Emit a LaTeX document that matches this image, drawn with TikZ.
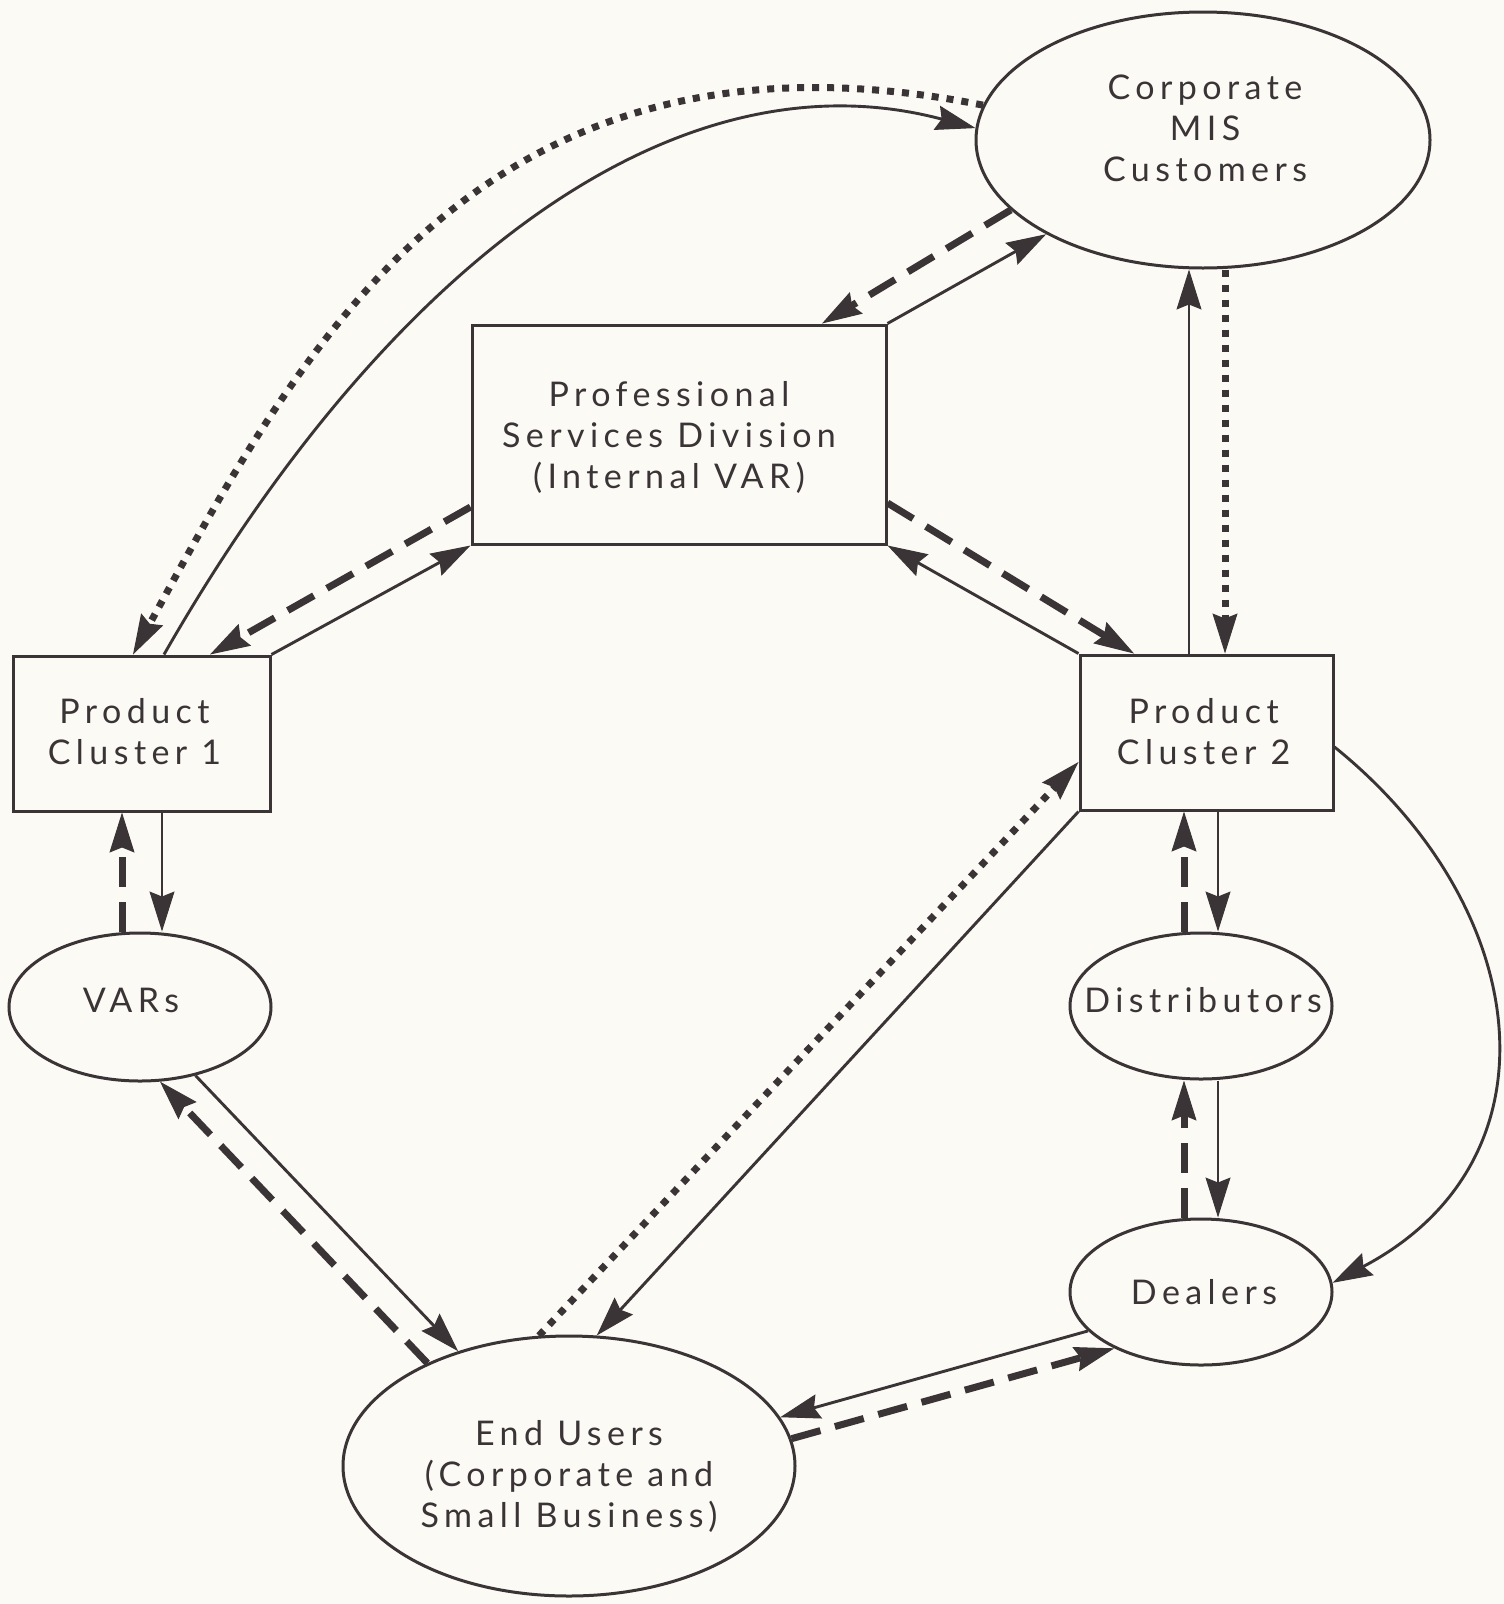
\documentclass[tikz,border=0pt]{standalone}
\usepackage{fontspec}
\setmainfont{Lato}[LetterSpace=16.0]
\usetikzlibrary{arrows.meta,shapes.geometric}
\definecolor{ink}{HTML}{3A3436}
\definecolor{paper}{HTML}{FBFAF5}
\begin{document}
\begin{tikzpicture}[x=1pt,y=-1pt,
  every node/.style={text=ink},
  box/.style={draw=ink,line width=3pt,rectangle,inner sep=0pt},
  ell/.style={draw=ink,line width=3pt,ellipse,inner sep=0pt},
  lbl/.style={align=center,font=\fontsize{34}{41}\selectfont,inner sep=0pt},
  tip/.style={-{Stealth[length=40pt,width=25pt,inset=5pt,line width=1pt]}},
  sol/.style={draw=ink,line width=2.9pt,tip},
  dsh/.style={draw=ink,line width=7pt,dash pattern=on 30pt off 15pt,tip},
  dot/.style={draw=ink,line width=7pt,dash pattern=on 7pt off 8pt,tip},
]
\fill[paper] (0,0) rectangle (1504,1604);
\useasboundingbox (0,0) rectangle (1504,1604);

\node[ell,minimum width=454pt,minimum height=256pt] (mis) at (1203,140) {};
\node[lbl] (mist) at (1205,128) {Corporate\\MIS\\Customers};
\node[box,minimum width=414pt,minimum height=219pt] (psd) at (679,434.5) {};
\node[lbl] (psdt) at (669,437) {Professional\\Services Division\\(Internal VAR)};
\node[box,minimum width=257pt,minimum height=155pt] (pc1) at (141.5,733.5) {};
\node[lbl] (pc1t) at (134.5,732) {Product\\Cluster 1};
\node[box,minimum width=253pt,minimum height=155pt] (pc2) at (1206.5,732.5) {};
\node[lbl] (pc2t) at (1203.6,732) {Product\\Cluster 2};
\node[ell,minimum width=262pt,minimum height=148pt] (vars) at (140,1007) {};
\node[lbl] (varst) at (131,1000) {VARs};
\node[ell,minimum width=262pt,minimum height=146pt] (dis) at (1201,1006) {};
\node[lbl] (dist) at (1203,1000) {Distributors};
\node[ell,minimum width=262pt,minimum height=146pt] (dea) at (1201,1292) {};
\node[lbl] (deat) at (1204,1292) {Dealers};
\node[ell,minimum width=452pt,minimum height=260pt] (eu) at (569,1466) {};
\node[lbl] (eut) at (569,1476) {End Users\\(Corporate and\\Small Business)};

% MIS <-> PC1 curves
\draw[dot] (mis.171) .. controls (480,5) and (298,352) .. ([xshift=-8.5pt]pc1.north);
\draw[sol] ([xshift=22.5pt]pc1.north) .. controls (381,275) and (670,47) .. (mis.177);
% MIS <-> PSD
\draw[dsh] (mis.200) -- ([xshift=143pt]psd.north);
\draw[sol] (psd.north east) -- (mis.211);
% PSD <-> PC1
\draw[dsh] ([yshift=-72.5pt]psd.west) -- ([xshift=68.5pt]pc1.north);
\draw[sol] (pc1.north east) -- (psd.south west);
% PSD <-> PC2
\draw[dsh] ([yshift=-68.5pt]psd.east) -- ([xshift=-72.5pt]pc2.north);
\draw[sol] (pc2.north west) -- (psd.south east);
% PC2 <-> MIS
\path ([xshift=-17.5pt]pc2.north) coordinate (a9) ([xshift=18.5pt]pc2.north) coordinate (a10);
\draw[sol] (a9) -- (a9 |- mis.south);
\draw[dot] (a10 |- mis.south) -- (a10);
% PC1 <-> VARs
\path ([xshift=-19.5pt]pc1.south) coordinate (a11) ([xshift=20.5pt]pc1.south) coordinate (a12);
\draw[dsh] (a11 |- vars.north) -- (a11);
\draw[sol] (a12) -- (a12 |- vars.north);
% PC2 <-> Distributors <-> Dealers
\path ([xshift=-22.5pt]pc2.south) coordinate (a13) ([xshift=11.5pt]pc2.south) coordinate (a14);
\draw[dsh] (a13 |- dis.north) -- (a13);
\draw[sol] (a14) -- (a14 |- dis.north);
\draw[dsh] (a13 |- dea.north) -- (a13 |- dis.south);
\draw[sol] (a14 |- dis.south) -- (a14 |- dea.north);
% PC2 -> Dealers curve
\draw[sol] ([yshift=-14.5pt]pc2.east) .. controls (1533,907) and (1565,1160) .. (dea.4);
% VARs <-> End Users
\draw[dsh] (eu.144) -- (vars.-75);
\draw[sol] (vars.-51) -- (eu.134);
% PC2 <-> End Users
\draw[dot] (eu.103) -- ([yshift=-29.5pt]pc2.west);
\draw[sol] (pc2.south west) -- (eu.78);
% Dealers <-> End Users
\draw[sol] (dea.199) -- (eu.13);
\draw[dsh] (eu.7) -- (dea.213);
\end{tikzpicture}
\end{document}
